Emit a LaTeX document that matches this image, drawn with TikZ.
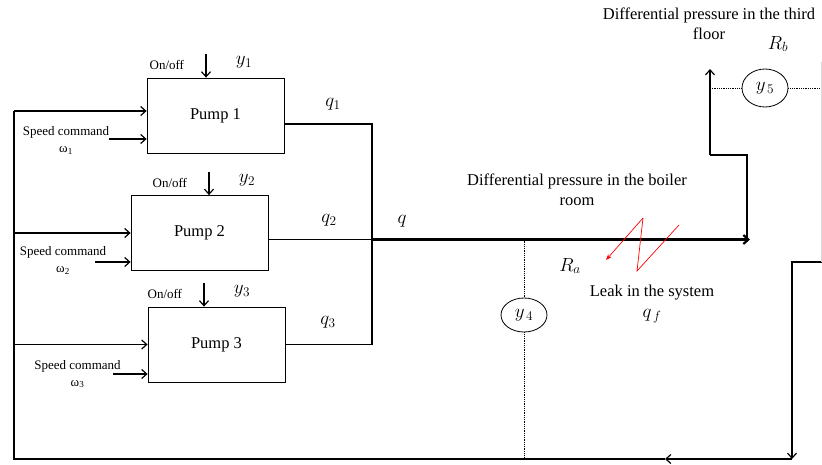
\RequirePackage{fix-cm}
\documentclass[tikz,border=0pt]{standalone}
\usepackage{fontspec}
\setmainfont{Liberation Serif}
\usetikzlibrary{arrows.meta, shapes.geometric}

\begin{document}
\begin{tikzpicture}[x=1pt, y=-1pt, line width=1.2pt,
    >={Straight Barb[length=5pt, width=9pt]},
    txtS/.style={font=\fontsize{13}{15}\selectfont},
    txtL/.style={font=\fontsize{16.5}{20}\selectfont, align=center},
    mth/.style={font=\fontsize{19}{21}\selectfont},
    dots/.style={densely dotted, line width=0.8pt},
    sensor/.style={draw, ellipse, line width=0.8pt, inner sep=0pt, minimum width=46pt, mth}]
    \useasboundingbox (0,0) rectangle (822,464);
    % pumps, on/off and speed command inputs
    \foreach \i/\x/\y/\ax/\ay/\sx/\sy/\tx/\ty in {1/215.5/115.5/206/54/109/139/66/132,
        2/199.5/233/209/172/95/262/63/252, 3/216.5/344.5/204/283/113/374/77.5/366} {
        \node[draw, line width=0.8pt, minimum width=137pt, minimum height=75pt, txtL] (p\i) at (\x,\y) {Pump \i};
        \coordinate (on\i) at (\ax,\ay);
        \draw[->] (on\i) -- (on\i |- p\i.north);
        \node[txtS, anchor=east] (oo\i) at ([xshift=-18pt, yshift=-11pt]on\i) {On/off};
        \node[mth] (y\i) at ([xshift=38pt, yshift=-8pt]on\i) {$y_\i$};
        \coordinate (s\i) at (\sx,\sy);
        \draw[->] (s\i) -- (s\i -| p\i.west);
        \node[txtS] (sc\i) at (\tx,\ty) {Speed command};
        \node[txtS] (w\i) at (\tx,\ty+18) {ω\textsubscript{\i}};
    }
    % return line to the pumps
    \coordinate (rin) at (822,262);
    \coordinate (rc) at (792,262);
    \coordinate (rb) at (792,459);
    \coordinate (rm) at (665,459);
    \coordinate (lb) at (14,459);
    \coordinate (lt) at (14,111);
    \draw[->] (rin) -- (rc) -- (rb);
    \draw[->] (rb) -- (rm);
    \draw (rm) -- (lb) -- (lt);
    \draw[->] (lt) -- (lt -| p1.west);
    \draw[->] (lt |- p2.west) -- (p2.west);
    \draw[->] (lt |- p3.west) -- (p3.west);
    % pump outputs
    \coordinate (o1) at (284,124);
    \coordinate (o2) at (268,239.5);
    \coordinate (j) at (372,239.5);
    \draw (o1) -- (o1 -| j) -- (j);
    \draw (o2) -- (j);
    \draw (p3.east) -- (p3.east -| j) -- (j);
    \node[mth] (q1) at (333,104) {$q_1$};
    \node[mth] (q2) at (329,220) {$q_2$};
    \node[mth] (q3) at (328,322) {$q_3$};
    % main pipe
    \coordinate (me) at (750,239.5);
    \draw[->, line width=2.2pt] (j) -- (me);
    \node[mth] (q) at (402,221) {$q$};
    \coordinate (m1) at (747,155);
    \coordinate (m2) at (710,155);
    \coordinate (m3) at (710,69);
    \draw (747,239.5) -- (m1) -- (m2);
    \draw[->] (m2) -- (m3);
    % differential pressure sensors
    \node[sensor, minimum height=38pt] (y5) at (765,88) {$y_{\,5}$};
    \draw[dots] (m2 |- y5) -- (y5);
    \draw[dots] (y5) -- (822,88);
    \node[sensor, minimum height=34pt] (y4) at (524,315) {$y_{\,4}$};
    \draw[dots] (524,240.5) -- (y4);
    \draw[dots] (y4) -- (524,458);
    \node[txtL] (dpb) at (577,190) {Differential pressure in the boiler\\room};
    \node[txtL] (dpt) at (709,24) {Differential pressure in the third\\floor};
    \node[mth] (rb) at (778,44) {$R_b$};
    \node[mth] (ra) at (570,266) {$R_a$};
    % leak
    \coordinate (k1) at (679,225);
    \coordinate (k2) at (637,271);
    \coordinate (k3) at (643,218);
    \coordinate (k4) at (606,260);
    \draw[red, line width=0.7pt] (k1) -- (k2) -- (k3);
    \draw[red, line width=0.7pt, -{Stealth[length=6pt]}] (k3) -- (k4);
    \node[txtL] (leak) at (652,293) {Leak in the system};
    \node[mth] (qf) at (652,316) {$q_{\,f}$};
    % edge of next drawing
    \draw[gray!30, line width=0.6pt] (821,62) -- (821,262);
\end{tikzpicture}
\end{document}
